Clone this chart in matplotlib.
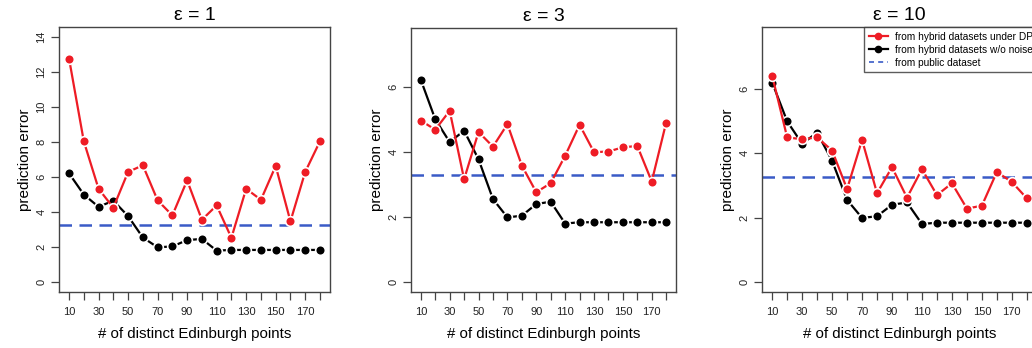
import matplotlib
matplotlib.use("Agg")
import matplotlib.pyplot as plt
from matplotlib.lines import Line2D

plt.rcParams['font.family'] = ['Liberation Sans', 'DejaVu Sans']

x_points = [10, 20, 30, 40, 50, 60, 70, 80, 90, 100, 110, 120, 130, 140, 150, 160, 170, 180]
x_labels = ['10', '', '30', '', '50', '', '70', '', '90', '', '110', '', '130', '', '150', '', '170', '']

no_noise = [6.21, 5.00, 4.30, 4.65, 3.77, 2.55, 1.99, 2.04, 2.40, 2.47, 1.80, 1.84, 1.84, 1.84, 1.84, 1.84, 1.84, 1.84]
dp_eps1 = [12.76, 8.04, 5.33, 4.25, 6.29, 6.67, 4.67, 3.81, 5.81, 3.56, 4.38, 2.53, 5.33, 4.70, 6.63, 3.47, 6.29, 8.04]
dp_eps3 = [4.96, 4.68, 5.26, 3.16, 4.61, 4.16, 4.85, 3.58, 2.76, 3.04, 3.88, 4.83, 3.99, 4.01, 4.14, 4.18, 3.09, 4.90]
dp_eps10 = [6.42, 4.50, 4.44, 4.50, 4.09, 2.89, 4.42, 2.76, 3.57, 2.62, 3.51, 2.70, 3.07, 2.28, 2.37, 3.42, 3.11, 2.60]
public_error = 3.28

titles = ['ε = 1', 'ε = 3', 'ε = 10']
dp_series = [dp_eps1, dp_eps3, dp_eps10]
y_ticks = [[0, 2, 4, 6, 8, 10, 12, 14], [0, 2, 4, 6], [0, 2, 4, 6]]
y_lims = [(-0.56, 14.56), (-0.3, 7.8), (-0.32, 7.94)]
legend_labels = ['from hybrid datasets under DP', 'from hybrid datasets w/o noise', 'from public dataset']

W, H = 1032, 348
fig = plt.figure(figsize=(W / 100, H / 100), dpi=100)

boxes = [(59, 27, 330, 292), (411, 28, 676, 292), (762, 27, 1037, 292)]
red = '#EE1C25'
blue = '#3A5BC7'
frame = '#444444'

for i, (l, t, r, b) in enumerate(boxes):
    ax = fig.add_axes([l / W, (H - b) / H, (r - l) / W, (b - t) / H])
    ax.axhline(public_error, color=blue, lw=1.8, ls=(0, (5, 3)), zorder=1)
    ax.plot(x_points, no_noise, color='black', lw=1.6, marker='o', ms=7,
            mfc='black', mec='white', mew=1.2, zorder=2)
    ax.plot(x_points, dp_series[i], color=red, lw=1.6, marker='o', ms=7,
            mfc=red, mec='white', mew=1.2, zorder=3)
    ax.set_xlim(3.2, 186.8)
    ax.set_ylim(*y_lims[i])
    ax.set_xticks(x_points)
    ax.set_xticklabels(x_labels)
    ax.set_yticks(y_ticks[i])
    ax.set_yticklabels([str(v) for v in y_ticks[i]], rotation=90, va='center')
    ax.tick_params(axis='both', direction='out', length=6, width=0.9, color=frame,
                   labelsize=8, labelcolor='#222222')
    ax.tick_params(axis='x', pad=5)
    ax.tick_params(axis='y', pad=3)
    for s in ax.spines.values():
        s.set_color(frame)
        s.set_linewidth(1.0)
    ax.set_title(titles[i], fontsize=14, pad=5)
    ax.set_xlabel('# of distinct Edinburgh points', fontsize=10.8, labelpad=7)
    ax.set_ylabel('prediction error', fontsize=11, labelpad=3)
    if i == 2:
        handles = [
            Line2D([], [], color=red, lw=1.6, marker='o', ms=4.5, mfc=red, mec=red),
            Line2D([], [], color='black', lw=1.6, marker='o', ms=4.5, mfc='black', mec='black'),
            Line2D([], [], color=blue, lw=1.2, ls=(0, (3, 2.5))),
        ]
        leg = ax.legend(handles, legend_labels, loc='upper left', bbox_to_anchor=(0.371, 1.0),
                        borderaxespad=0, fontsize=7.3, frameon=True, fancybox=False,
                        handlelength=1.9, handletextpad=0.7, labelspacing=0.3,
                        borderpad=0.45)
        leg.get_frame().set_edgecolor('#333333')
        leg.get_frame().set_linewidth(1.0)

fig.savefig('out.png', dpi=100)
